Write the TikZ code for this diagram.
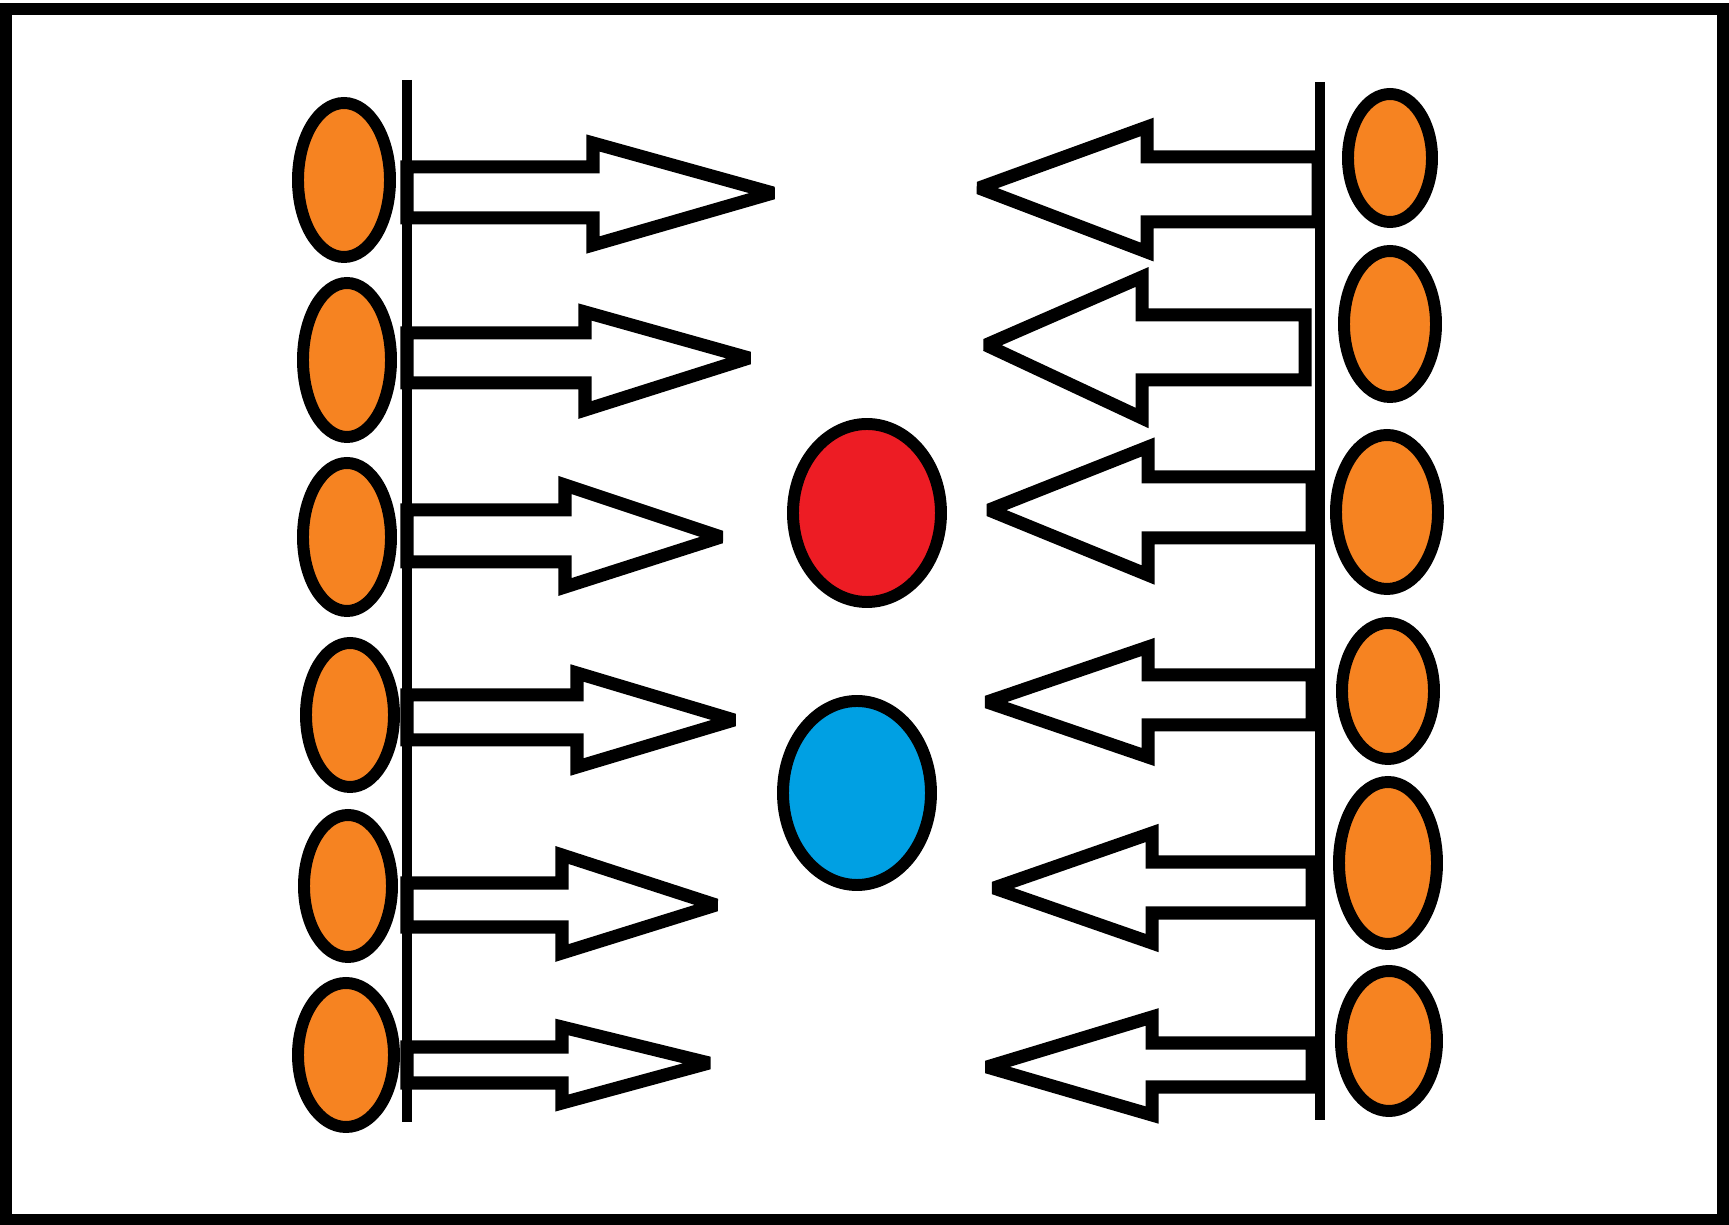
\documentclass[tikz,border=0pt]{standalone}
\usepackage{tikz}
\definecolor{bead orange}{rgb}{0.9647, 0.5137, 0.1294}
\definecolor{ion red}{rgb}{0.9294, 0.1098, 0.1412}
\definecolor{ion blue}{rgb}{0.0, 0.6275, 0.8902}
\tikzset{
	bead/.style = {fill = bead orange, draw = black, line width = 3.4pt},
	ion/.style = {draw = black, line width = 3.4pt},
	push arrow/.style = {draw = black, fill = white, line width = 3.7pt, line join = miter, miter limit = 2},
	plate/.style = {draw = black, line width = 2.85pt}
}

\begin{document}
\begin{tikzpicture}[x = 0.01cm, y = -0.01cm]
			\useasboundingbox (0, 0) rectangle (1729, 1225);
			% outer frame
			\draw[line width = 3.4pt] (6, 9) rectangle (1723, 1220);
			% arrows from the left plate
			\foreach \st/\sb/\hx/\ht/\hb/\tx/\ty in {167/218/593/143/245/773/193,
				333/383/585/312/410/749/358, 510/562/565/485/587/721/537,
				695/740/577/673/767/734/720, 883/927/562/855/953/716/905,
				1047/1083/562/1027/1103/709/1063}
				\draw[push arrow] (407, \st) -- (\hx, \st) -- (\hx, \ht) -- (\tx, \ty)
					-- (\hx, \hb) -- (\hx, \sb) -- (407, \sb) -- cycle;
			% arrows from the right plate
			\foreach \st/\sb/\hx/\ht/\hb/\tx/\ty/\ex in {157/222/1147/127/252/979/188/1318,
				315/380/1142/277/418/986/345/1305, 477/538/1148/447/575/989/510/1312,
				675/725/1148/647/757/987/702/1312, 862/913/1152/833/943/994/888/1312,
				1043/1087/1152/1017/1115/987/1067/1312}
				\draw[push arrow] (\ex, \st) -- (\hx, \st) -- (\hx, \ht) -- (\tx, \ty)
					-- (\hx, \hb) -- (\hx, \sb) -- (\ex, \sb) -- cycle;
			% plates
			\draw[plate] (407, 80) -- (407, 1122);
			\draw[plate] (1320, 82) -- (1320, 1120);
			% beads on the left
			\foreach \cx/\cy/\rx/\ry in {344/180/46/77, 347/360/44/77, 347/537/44/74,
				350/715/44/72, 348/886/44/71, 346/1055/48/72}
				\draw[bead] (\cx, \cy) ellipse [x radius = \rx, y radius = \ry];
			% beads on the right
			\foreach \cx/\cy/\rx/\ry in {1390/158/42/64, 1390/324/46/73, 1387/512/51/77,
				1388/691/46/68, 1388/863/49/81, 1389/1041/48/70}
				\draw[bead] (\cx, \cy) ellipse [x radius = \rx, y radius = \ry];
			% the two ions in the middle
			\draw[ion, fill = ion red] (867, 513) ellipse [x radius = 74, y radius = 89];
			\draw[ion, fill = ion blue] (857, 793) ellipse [x radius = 74, y radius = 92];
		\end{tikzpicture}
\end{document}
